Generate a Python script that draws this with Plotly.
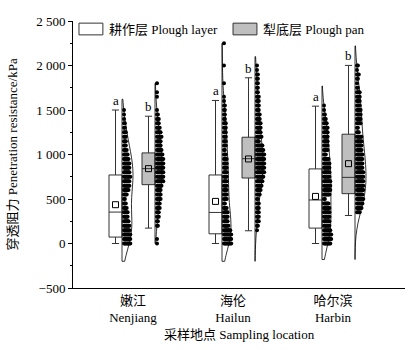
import numpy as np
import plotly.graph_objects as go

# ---------------------------------------------------------------- data ----
sites = ["嫩江<br>Nenjiang", "海伦<br>Hailun", "哈尔滨<br>Harbin"]
layer_names = ["耕作层 Plough layer", "犁底层 Plough pan"]

# box statistics, kPa (Nenjiang, Hailun, Harbin)
layer_q1 = [72, 109, 173]
layer_median = [353, 349, 489]
layer_q3 = [770, 770, 838]
layer_low = [0, 0, 0]
layer_high = [1500, 1607, 1543]
layer_mean = [436, 473, 529]

pan_q1 = [661, 736, 560]
pan_median = [841, 953, 743]
pan_q3 = [1018, 1194, 1228]
pan_low = [173, 143, 315]
pan_high = [1430, 1862, 2001]
pan_mean = [841, 950, 897]

layer_letters = ["a", "a", "a"]
pan_letters = ["b", "b", "b"]

# individual readings, binned to 50 kPa: number of readings per level
levels = list(range(0, 2300, 50))

nj_layer_n = [8, 8, 8, 7, 7, 6, 5, 5, 4, 3,
              2, 4, 6, 7, 7, 8, 7, 7, 7, 6,
              5, 4, 3, 3, 3, 3, 2, 2, 1, 1,
              1, 0, 0, 0, 0, 0, 0, 0, 0, 0,
              0, 0, 0, 0, 0, 0]
nj_pan_n = [1, 1, 0, 0, 2, 2, 3, 3, 4, 4,
            5, 5, 5, 6, 8, 8, 8, 8, 8, 8,
            7, 6, 5, 5, 6, 5, 4, 3, 3, 2,
            1, 0, 0, 1, 1, 0, 1, 0, 0, 0,
            0, 0, 0, 0, 0, 0]
hl_layer_n = [9, 9, 9, 8, 6, 5, 5, 5, 4, 2,
              4, 4, 4, 4, 4, 4, 4, 4, 4, 4,
              3, 2, 3, 3, 3, 3, 3, 3, 2, 2,
              2, 2, 1, 1, 0, 0, 1, 0, 0, 0,
              1, 0, 0, 0, 0, 1]
hl_pan_n = [0, 0, 0, 1, 2, 3, 3, 3, 3, 3,
            2, 4, 5, 6, 7, 8, 9, 9, 9, 9,
            9, 8, 7, 3, 6, 5, 5, 5, 4, 4,
            3, 3, 3, 3, 2, 2, 2, 2, 2, 1,
            1, 0, 0, 0, 0, 0]
hb_layer_n = [8, 9, 9, 8, 7, 7, 7, 7, 7, 6,
              2, 7, 8, 8, 8, 7, 7, 7, 7, 6,
              3, 5, 5, 5, 5, 5, 5, 4, 3, 2,
              1, 1, 0, 0, 0, 0, 0, 0, 0, 0,
              0, 0, 0, 0, 0, 0]
hb_pan_n = [0, 0, 0, 0, 0, 0, 0, 4, 6, 7,
            8, 7, 8, 8, 8, 8, 8, 7, 7, 7,
            7, 6, 6, 6, 6, 3, 2, 5, 5, 5,
            5, 4, 4, 4, 4, 2, 1, 2, 3, 1,
            2, 0, 0, 0, 0, 0]

layer_counts = [nj_layer_n, hl_layer_n, hb_layer_n]
pan_counts = [nj_pan_n, hl_pan_n, hb_pan_n]

# extent of the distribution curves, kPa
layer_span = [[-200, 1620], [-200, 2250], [-180, 1770]]
pan_span = [[0, 1800], [-200, 2100], [-180, 2220]]

# ------------------------------------------------------------- styling ----
FONT = "Liberation Serif, Times New Roman, Noto Sans CJK SC, serif"
GREY = "#bfbfbf"
BOX_W = 0.13
OFFSETS = (-0.175, 0.155)
DOT_STEP = 0.009
layer_curve_w = [0.11, 0.09, 0.09]
pan_curve_w = [0.07, 0.08, 0.11]

fig = go.Figure()
centers = np.arange(1, len(sites) + 1)


def add_series(off, q1, med, q3, lo, hi, mean, fill, counts, spans, curve_w, letters):
    pos = centers + off
    base = pos + BOX_W / 2

    fig.add_trace(go.Box(
        x=pos, q1=q1, median=med, q3=q3, lowerfence=lo, upperfence=hi,
        width=BOX_W, whiskerwidth=0.55, fillcolor=fill,
        line=dict(color="#333333", width=1), boxpoints=False,
        showlegend=False, hoverinfo="skip"))

    for i in range(len(sites)):
        vals = np.repeat(levels, counts[i]).astype(float)
        # half distribution curve on the right of the box, with its base line
        fig.add_trace(go.Violin(
            x0=base[i], y=vals, side="positive", width=2 * curve_w[i],
            bandwidth=200, spanmode="manual", span=spans[i],
            points=False, fillcolor="rgba(0,0,0,0)",
            line=dict(color="black", width=0.8),
            showlegend=False, hoverinfo="skip"))
        fig.add_trace(go.Scatter(
            x=[base[i], base[i]], y=spans[i], mode="lines",
            line=dict(color="black", width=0.8),
            showlegend=False, hoverinfo="skip"))
        # readings stacked sideways at each level
        xs, ys = [], []
        for lv, n in zip(levels, counts[i]):
            for k in range(n):
                xs.append(base[i] + 0.02 + k * DOT_STEP)
                ys.append(lv)
        fig.add_trace(go.Scatter(
            x=xs, y=ys, mode="markers",
            marker=dict(symbol="circle", size=4, color="black"),
            showlegend=False, hoverinfo="skip"))

    fig.add_trace(go.Scatter(
        x=pos, y=mean, mode="markers",
        marker=dict(symbol="square-open", size=6, color="black",
                    line=dict(width=1)),
        showlegend=False, hoverinfo="skip"))

    for i in range(len(sites)):
        fig.add_annotation(x=pos[i], y=hi[i], text=letters[i], showarrow=False,
                           yanchor="bottom", yshift=0,
                           font=dict(family=FONT, size=13, color="black"))


add_series(OFFSETS[0], layer_q1, layer_median, layer_q3, layer_low, layer_high,
           layer_mean, "white", layer_counts, layer_span, layer_curve_w, layer_letters)
add_series(OFFSETS[1], pan_q1, pan_median, pan_q3, pan_low, pan_high,
           pan_mean, GREY, pan_counts, pan_span, pan_curve_w, pan_letters)

# legend swatches and labels
for x0, fill, label in [(0.018, "white", layer_names[0]), (0.482, GREY, layer_names[1])]:
    fig.add_shape(type="rect", xref="paper", yref="paper",
                  x0=x0, x1=x0 + 0.072, y0=0.948, y1=0.992,
                  fillcolor=fill, line=dict(color="#333333", width=1))
    fig.add_annotation(xref="paper", yref="paper", x=x0 + 0.084, y=0.970,
                       text=label, showarrow=False, xanchor="left", yanchor="middle",
                       font=dict(family=FONT, size=13, color="black"))

# axis titles
fig.add_annotation(xref="paper", yref="paper", x=-0.181, y=0.5,
                   text="穿透阻力 Penetration resistance/kPa", textangle=-90,
                   showarrow=False, xanchor="center", yanchor="middle",
                   font=dict(family=FONT, size=13, color="black"))
fig.add_annotation(xref="paper", yref="paper", x=0.5, y=-0.176,
                   text="采样地点 Sampling location",
                   showarrow=False, xanchor="center", yanchor="middle",
                   font=dict(family=FONT, size=13, color="black"))

fig.update_layout(
    width=415, height=350,
    margin=dict(l=73, r=10, t=21, b=62),
    paper_bgcolor="white", plot_bgcolor="white",
    boxmode="overlay", violinmode="overlay",
    font=dict(family=FONT, size=13, color="black"),
    showlegend=False,
)
fig.update_xaxes(
    range=[0.4, 3.72], tickmode="array", tickvals=centers, ticktext=sites,
    ticks="", showline=True, linecolor="black", linewidth=1,
    showgrid=False, zeroline=False,
    tickfont=dict(family=FONT, size=13, color="black"))
fig.update_yaxes(
    range=[-500, 2500], tickmode="array",
    tickvals=[-500, 0, 500, 1000, 1500, 2000, 2500],
    ticktext=["\u2212500", "0", "500", "1 000", "1 500", "2 000", "2 500"],
    ticks="outside", ticklen=4, tickwidth=1, tickcolor="black",
    minor=dict(tickmode="linear", tick0=0, dtick=250, ticks="outside",
               ticklen=2, tickwidth=1, tickcolor="black", showgrid=False),
    showline=True, linecolor="black", linewidth=1,
    showgrid=False, zeroline=False,
    tickfont=dict(family=FONT, size=13, color="black"))

fig.write_html("out.html")
